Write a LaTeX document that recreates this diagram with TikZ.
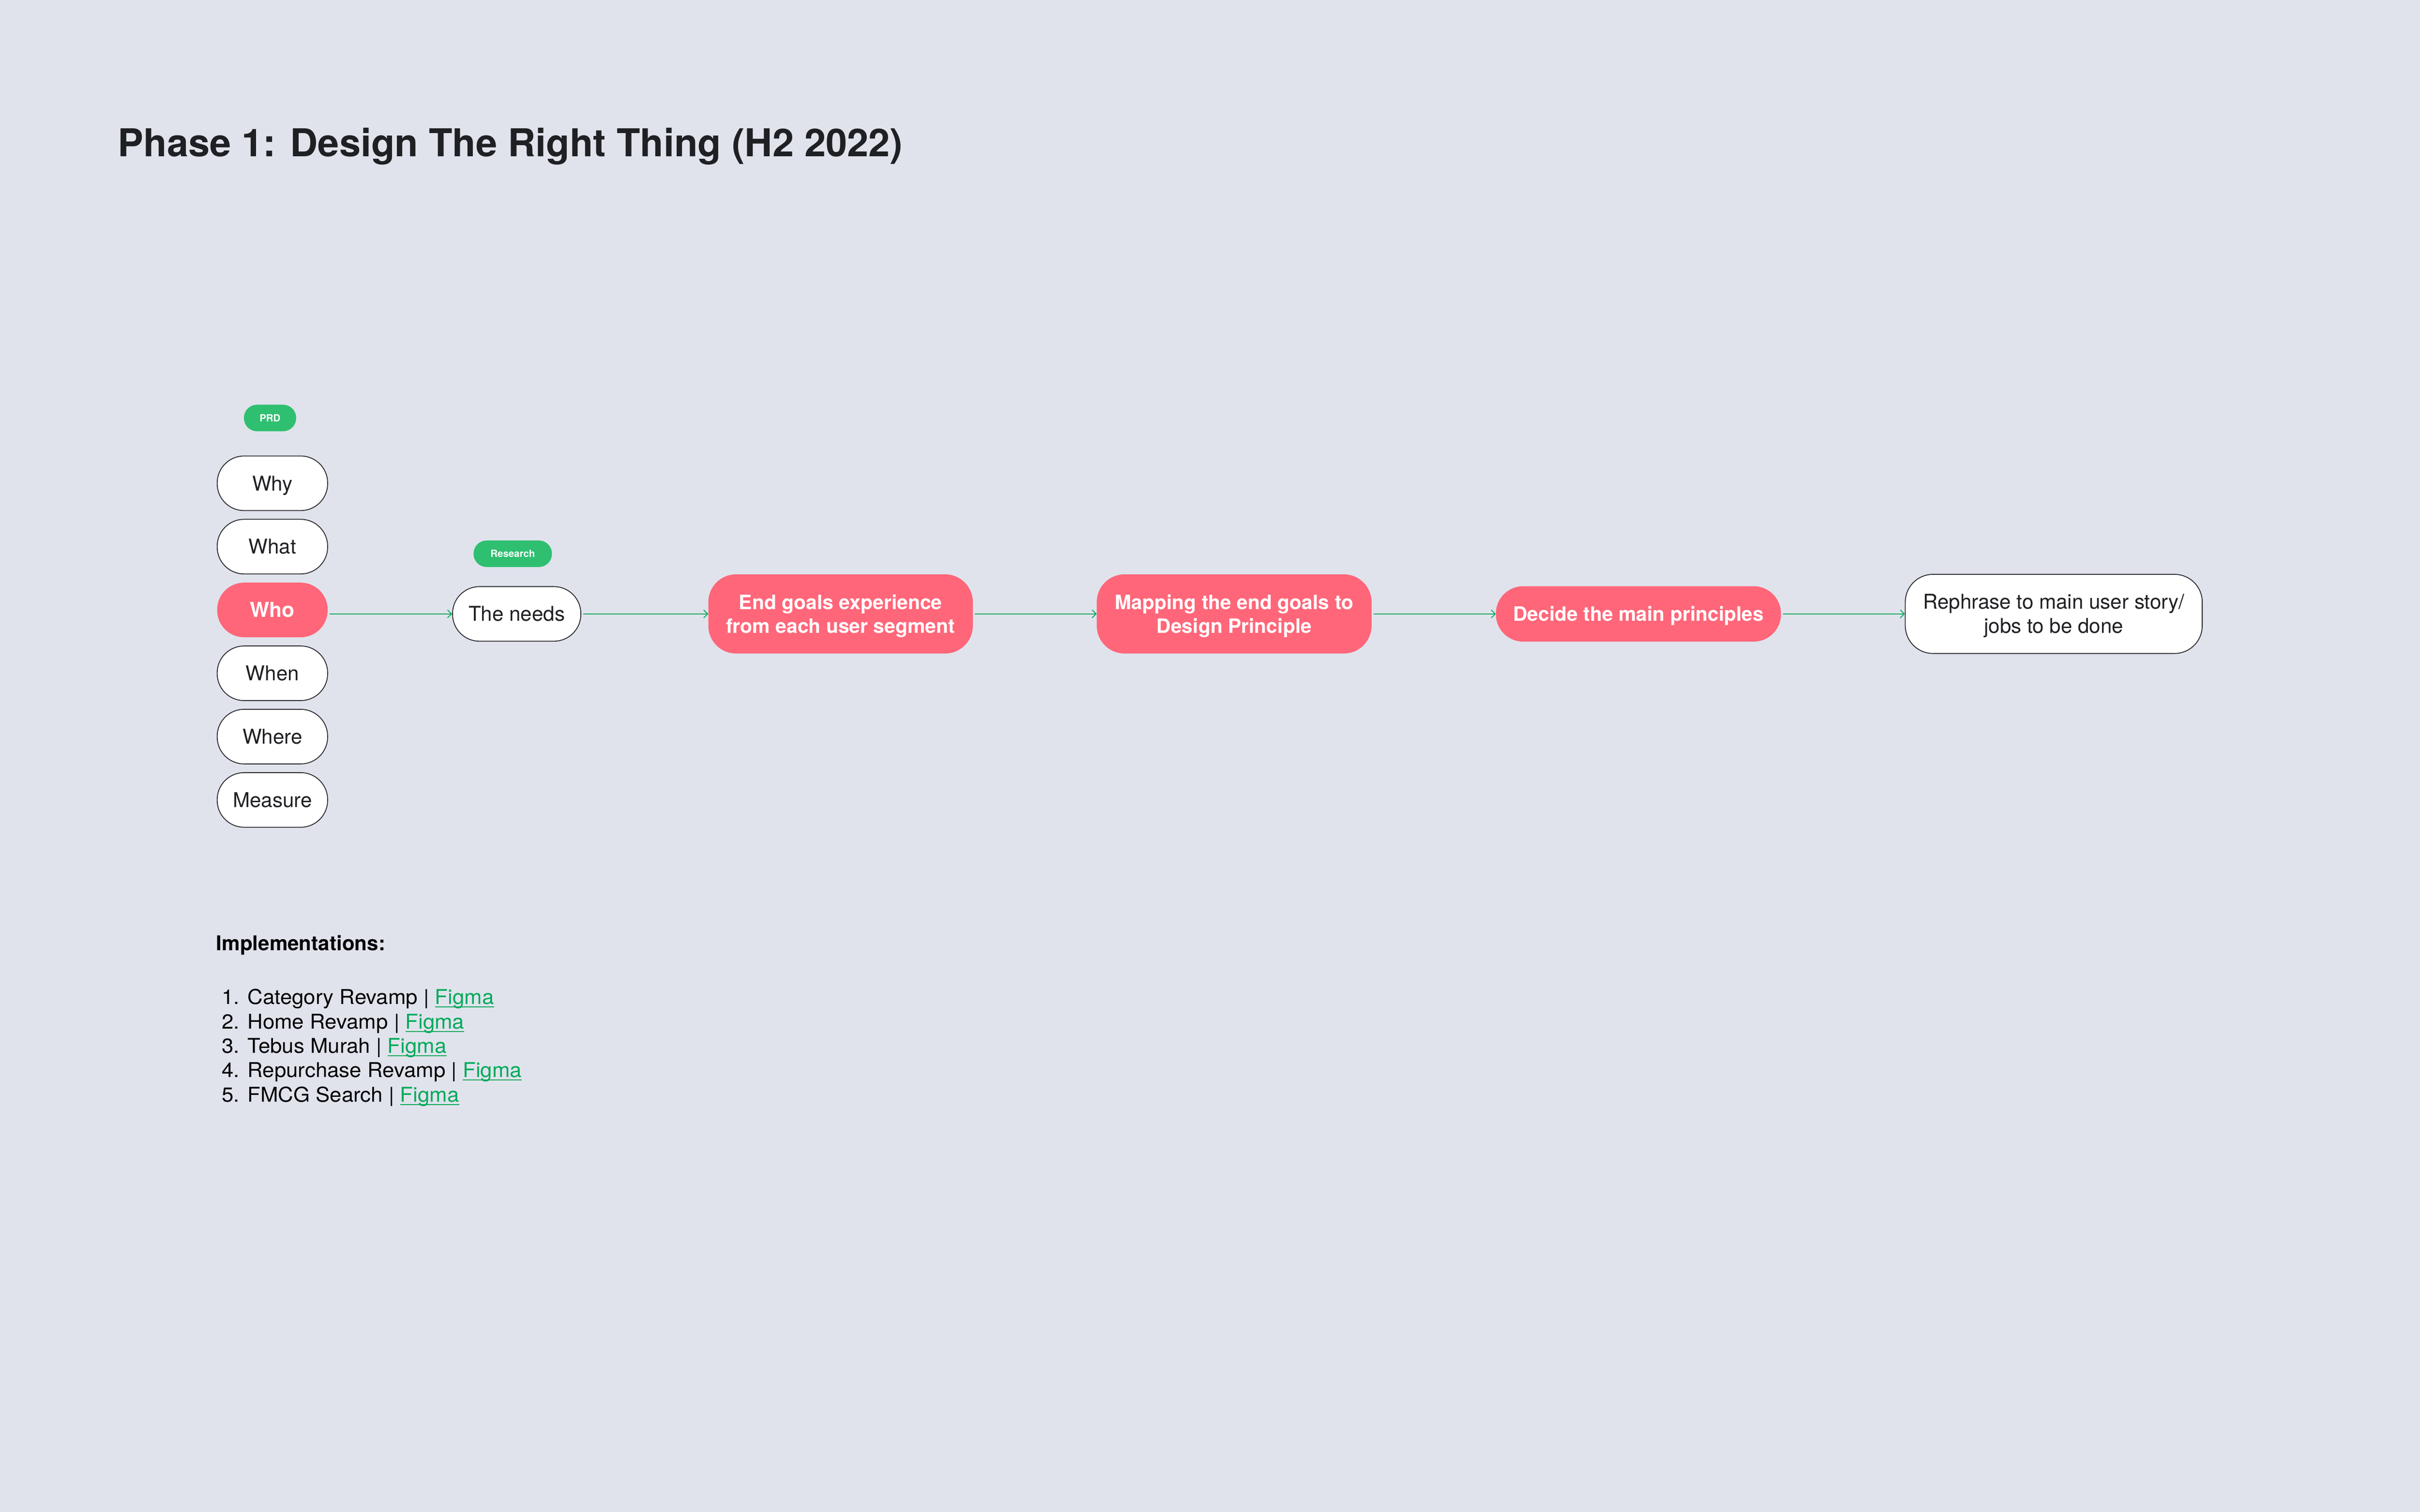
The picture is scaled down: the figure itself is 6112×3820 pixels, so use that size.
\documentclass[tikz,border=0pt]{standalone}
\usepackage{fontspec}
\setmainfont{TeX Gyre Heros}
\newfontfamily\listfont[FakeStretch=1.04]{TeX Gyre Heros}
\usetikzlibrary{arrows.meta}
\definecolor{bgc}{HTML}{E0E3EC}
\definecolor{pinkc}{HTML}{FF6679}
\definecolor{pillg}{HTML}{2FBF71}
\definecolor{lineg}{HTML}{00AA5B}
\definecolor{darkc}{HTML}{1F2023}
\definecolor{borderc}{HTML}{2A2A2E}
\newcommand\figlink[1]{\textcolor{lineg}{\setbox0\hbox{#1}\rlap{\rule[-8pt]{\wd0}{2.5pt}}\box0}}
\tikzset{
  base/.style={inner sep=0pt, align=center, font=\fontsize{51.5}{61}\selectfont, text=darkc},
  oneline/.style={text height=37pt, text depth=0pt},
  twoline/.style={text height=96pt, text depth=0pt},
  wpill/.style={base, draw=borderc, line width=2.2pt, fill=white, rounded corners=68pt, minimum width=279pt, minimum height=138pt},
  ppill/.style={base, fill=pinkc, text=white, font=\bfseries\fontsize{50}{60}\selectfont, rounded corners=70pt},
  gpill/.style={inner sep=0pt, fill=pillg, text=white, font=\bfseries\fontsize{25}{30}\selectfont, rounded corners=33pt, minimum height=67pt, text height=18pt, text depth=0pt},
  conn/.style={draw=lineg, line width=2.2pt, -{Straight Barb[length=10pt,width=20pt,line width=2.2pt]}, shorten <=5pt},
  itemtxt/.style={anchor=base west, inner sep=0pt, font=\listfont\fontsize{51.5}{61}\selectfont, text=black}
}
\begin{document}
\begin{tikzpicture}[x=1pt,y=-1pt]
\useasboundingbox (0,0) rectangle (6112,3820);
\fill[bgc] (0,0) rectangle (6112,3820);

\node[anchor=base west, inner sep=0pt, font=\bfseries\fontsize{97}{116}\selectfont, text=darkc] (title) at (298,396) {Phase 1: Design The Right Thing (H2 2022)};

\node[gpill, minimum width=132pt] (prd) at (682,1056) {PRD};
\node[wpill, oneline] (why) at (688,1221) {Why};
\node[wpill, oneline] (what) at (688,1381) {What};
\node[ppill, oneline, minimum width=279pt, minimum height=138pt, rounded corners=68pt, font=\bfseries\fontsize{52}{62}\selectfont] (who) at (688,1541) {Who};
\node[wpill, oneline] (when) at (688,1701) {When};
\node[wpill, oneline] (where) at (688,1861) {Where};
\node[wpill, oneline] (measure) at (688,2021) {Measure};

\node[gpill, minimum width=198pt] (research) at (1295,1399) {Research};
\node[wpill, oneline, minimum width=324pt] (needs) at (1305,1551) {The needs};

\node[ppill, twoline, minimum width=668pt, minimum height=200pt] (goals) at (2123,1551) {End goals experience\\from each user segment};
\node[ppill, twoline, minimum width=694pt, minimum height=200pt] (mapping) at (3117,1551) {Mapping the end goals to\\Design Principle};
\node[ppill, oneline, text height=36pt, minimum width=720pt, minimum height=140pt, rounded corners=69pt] (decide) at (4138,1551) {Decide the main principles};
\node[wpill, twoline, minimum width=750pt, minimum height=200pt, rounded corners=70pt] (rephrase) at (5187,1551) {Rephrase to main user story/\\jobs to be done};

\draw[conn] (who.east |- needs.west) -- (needs.west);
\draw[conn] (needs.east) -- (goals.west);
\draw[conn] (goals.east) -- (mapping.west);
\draw[conn] (mapping.east) -- (decide.west);
\draw[conn] (decide.east) -- (rephrase.west);

\node[anchor=base west, inner sep=0pt, font=\bfseries\fontsize{51.5}{61}\selectfont, text=black] (impl) at (546,2401) {Implementations:};
\node[itemtxt] (item1) at (550,2537) {\makebox[55pt][r]{1.}\hspace{20pt}Category Revamp | \figlink{Figma}};
\node[itemtxt] (item2) at (550,2599) {\makebox[55pt][r]{2.}\hspace{20pt}Home Revamp | \figlink{Figma}};
\node[itemtxt] (item3) at (550,2660) {\makebox[55pt][r]{3.}\hspace{20pt}Tebus Murah | \figlink{Figma}};
\node[itemtxt] (item4) at (550,2722) {\makebox[55pt][r]{4.}\hspace{20pt}Repurchase Revamp | \figlink{Figma}};
\node[itemtxt] (item5) at (550,2784) {\makebox[55pt][r]{5.}\hspace{20pt}FMCG Search | \figlink{Figma}};
\end{tikzpicture}
\end{document}
